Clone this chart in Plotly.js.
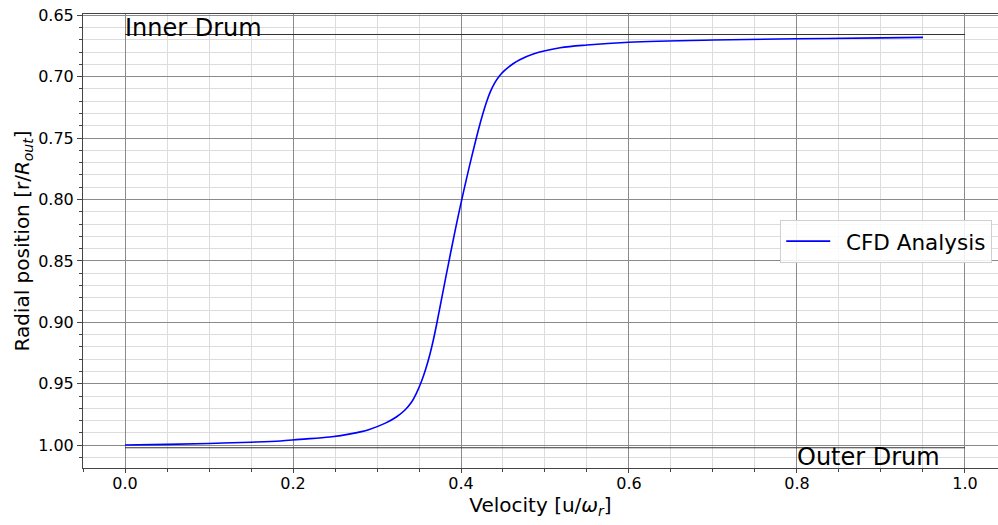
<!DOCTYPE html>
<html>
<head>
<meta charset="utf-8">
<script src="https://cdn.plot.ly/plotly-3.0.1.min.js"></script>
<style>html,body{margin:0;padding:0;background:#fff;}#chart{width:998px;height:525px;}</style>
</head>
<body>
<div id="chart"></div>
<script>
// CFD velocity profile
const velocity = [0.00, 0.05, 0.10, 0.15, 0.185, 0.208, 0.244, 0.27, 0.290, 0.310, 0.323, 0.333, 0.341, 0.347, 0.353, 0.358, 0.363, 0.367, 0.371, 0.377, 0.385, 0.393, 0.400, 0.413, 0.423, 0.430, 0.435, 0.440, 0.446, 0.452, 0.462, 0.470, 0.486, 0.518, 0.55, 0.60, 0.70, 0.80, 0.90, 0.95];
const radial   = [0.9998, 0.9993, 0.9985, 0.9975, 0.9965, 0.9952, 0.9933, 0.9905, 0.9873, 0.9820, 0.9770, 0.9715, 0.9650, 0.9575, 0.9479, 0.9379, 0.9259, 0.9145, 0.9015, 0.8805, 0.8525, 0.8253, 0.8029, 0.7645, 0.7375, 0.7214, 0.7122, 0.7052, 0.6992, 0.6949, 0.6895, 0.6862, 0.6815, 0.6765, 0.6742, 0.6720, 0.6702, 0.6692, 0.6684, 0.6680];

// Drum walls
const drumX = [0.0, 1.0];
const innerDrumY = [0.6657, 0.6657];
const outerDrumY = [1.002, 1.002];

const seriesName = "\u2002CFD Analysis";
const xTitle = "Velocity [u/<i>ω</i><sub><i>r</i></sub>]";
const yTitle = "Radial position [r/<i>R</i><sub><i>out</i></sub>]";
const innerLabel = "Inner Drum";
const outerLabel = "Outer Drum";

const traces = [
  {x: drumX, y: innerDrumY, mode: 'lines', line: {color: '#333333', width: 1.2}, showlegend: false, hoverinfo: 'skip'},
  {x: drumX, y: outerDrumY, mode: 'lines', line: {color: '#333333', width: 1.2}, showlegend: false, hoverinfo: 'skip'},
  {x: velocity, y: radial, mode: 'lines', name: seriesName, line: {color: '#0000ff', width: 1.6, shape: 'spline', smoothing: 1}}
];

const font = {family: 'DejaVu Sans, sans-serif', color: '#000'};

const layout = {
  width: 998, height: 525,
  margin: {l: 83, r: 0, t: 14, b: 57, pad: 0},
  paper_bgcolor: '#fff', plot_bgcolor: '#fff',
  font: Object.assign({size: 16}, font),
  showlegend: true,
  legend: {
    x: 0.762, y: 0.547, xanchor: 'left', yanchor: 'top',
    bgcolor: 'rgba(255,255,255,0.85)', bordercolor: '#d0d0d0', borderwidth: 1,
    font: {size: 21.5, family: font.family, color: '#000'},
    itemwidth: 44
  },
  xaxis: {
    range: [-0.05, 1.0393],
    tickmode: 'linear', tick0: 0, dtick: 0.2, tickformat: '.1f',
    ticks: 'outside', ticklen: 4, tickcolor: '#444', tickfont: {size: 16},
    ticklabelstandoff: -3,
    showgrid: true, gridcolor: '#8a8a8a', gridwidth: 1,
    minor: {dtick: 0.05, tick0: 0, showgrid: true, gridcolor: '#dcdcdc', gridwidth: 1, ticks: 'outside', ticklen: 3, tickcolor: '#444'},
    showline: true, linecolor: '#444', linewidth: 1, mirror: true,
    zeroline: false,
    title: {text: xTitle, font: {size: 20}, standoff: 4}
  },
  yaxis: {
    range: [1.0185, 0.6490],
    tickmode: 'linear', tick0: 0.65, dtick: 0.05, tickformat: '.2f',
    ticks: 'outside', ticklen: 5, tickcolor: '#444', tickfont: {size: 16},
    showgrid: true, gridcolor: '#8a8a8a', gridwidth: 1,
    minor: {dtick: 0.01, tick0: 0.65, showgrid: true, gridcolor: '#dcdcdc', gridwidth: 1, ticks: 'outside', ticklen: 3, tickcolor: '#444'},
    showline: true, linecolor: '#444', linewidth: 1, mirror: false,
    zeroline: false,
    title: {text: yTitle, font: {size: 20}, standoff: 3}
  },
  annotations: [
    {x: 0.0, y: innerDrumY[0], xref: 'x', yref: 'y', text: innerLabel, showarrow: false,
     xanchor: 'left', yanchor: 'bottom', yshift: -9, xshift: -2, font: {size: 24, family: font.family, color: '#000'}},
    {x: 0.8, y: outerDrumY[0], xref: 'x', yref: 'y', text: outerLabel, showarrow: false,
     xanchor: 'left', yanchor: 'top', yshift: 7, xshift: -2, font: {size: 24, family: font.family, color: '#000'}}
  ]
};

Plotly.newPlot('chart', traces, layout, {staticPlot: true, displayModeBar: false});
</script>
</body>
</html>
